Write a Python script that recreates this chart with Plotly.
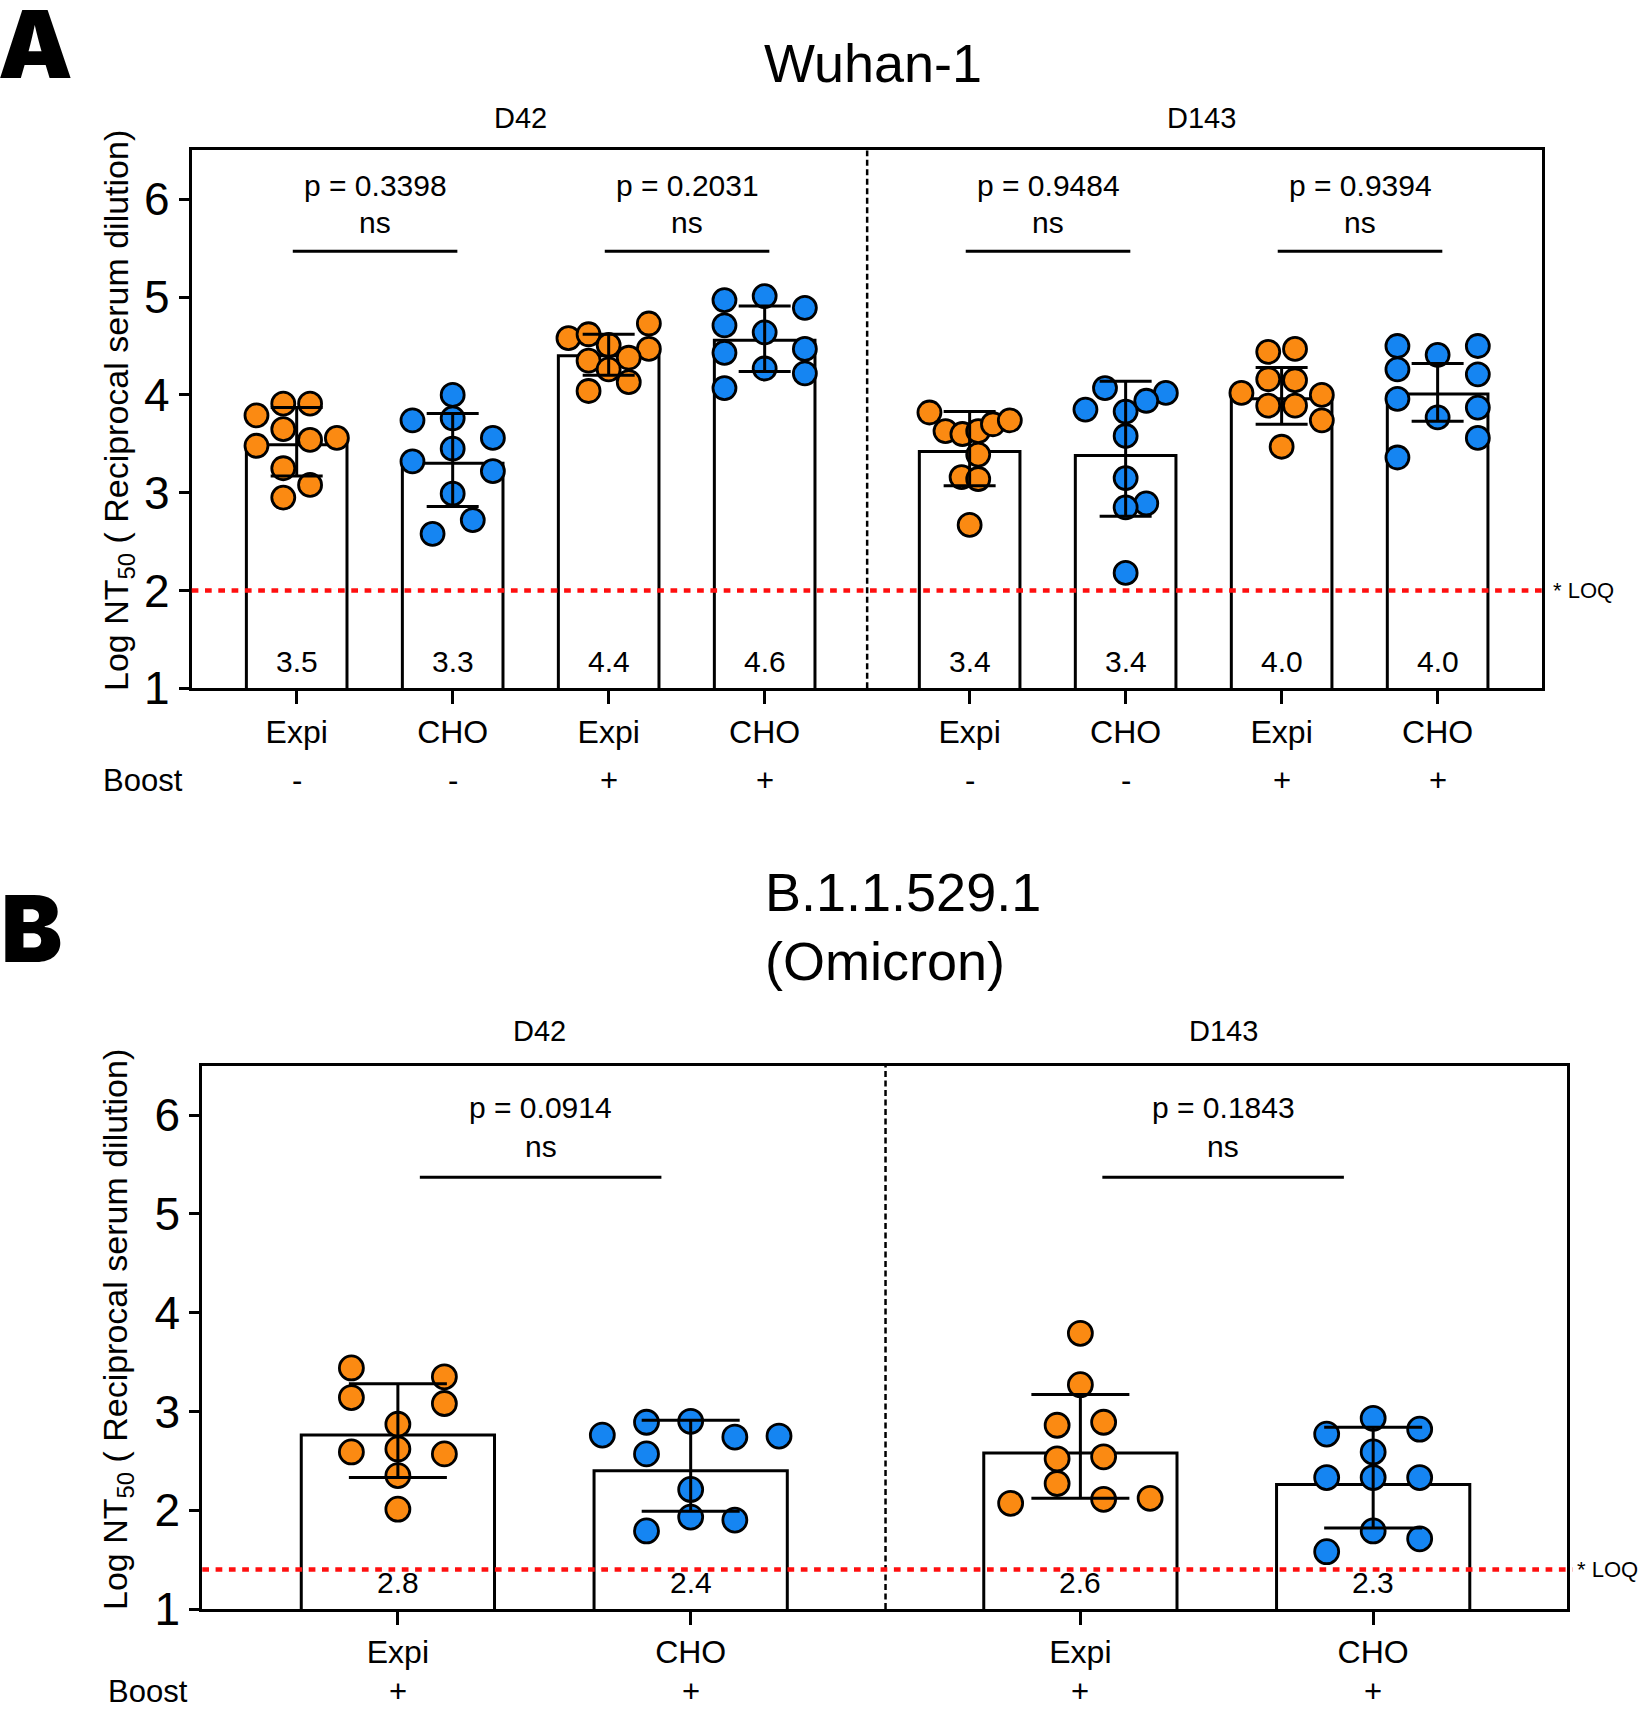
import plotly.graph_objects as go

# ---------------- data ----------------
# Panel A : Wuhan-1
a_platform = ["Expi", "CHO", "Expi", "CHO", "Expi", "CHO", "Expi", "CHO"]
a_boost = ["-", "-", "+", "+", "-", "-", "+", "+"]
a_days = ["D42", "D143"]
a_points = [
    [3.79, 3.91, 3.91, 3.65, 3.48, 3.54, 3.56, 3.25, 3.08, 2.95],
    [4.00, 3.74, 3.76, 3.56, 3.45, 3.32, 3.22, 2.99, 2.72, 2.58],
    [4.58, 4.62, 4.73, 4.51, 4.47, 4.35, 4.38, 4.26, 4.13, 4.04],
    [4.97, 5.01, 4.89, 4.71, 4.64, 4.43, 4.47, 4.27, 4.22, 4.07],
    [3.82, 3.63, 3.60, 3.63, 3.70, 3.74, 3.39, 3.16, 3.14, 2.67],
    [4.07, 4.02, 3.85, 3.94, 3.83, 3.58, 3.15, 2.89, 2.85, 2.18],
    [4.44, 4.47, 4.16, 4.15, 4.02, 3.89, 3.89, 4.00, 3.74, 3.47],
    [4.50, 4.50, 4.41, 4.26, 4.21, 3.96, 3.87, 3.77, 3.56, 3.36],
]
a_bar = [3.49, 3.30, 4.40, 4.56, 3.42, 3.38, 3.96, 4.01]
a_err_hi = [3.87, 3.81, 4.62, 4.91, 3.83, 4.14, 4.28, 4.32]
a_err_lo = [3.17, 2.86, 4.20, 4.24, 3.07, 2.76, 3.70, 3.73]
a_pvals = ["0.3398", "0.2031", "0.9484", "0.9394"]
a_loq = 2.0

# Panel B : B.1.1.529.1 (Omicron)
b_platform = ["Expi", "CHO", "Expi", "CHO"]
b_boost = ["+", "+", "+", "+"]
b_days = ["D42", "D143"]
b_points = [
    [3.44, 3.35, 3.14, 3.08, 2.87, 2.59, 2.62, 2.57, 2.35, 2.01],
    [2.76, 2.89, 2.90, 2.74, 2.75, 2.57, 2.21, 1.93, 1.90, 1.79],
    [3.79, 3.27, 2.86, 2.89, 2.52, 2.54, 2.27, 2.07, 2.11, 2.12],
    [2.93, 2.77, 2.82, 2.59, 2.33, 2.33, 2.33, 1.79, 1.71, 1.58],
]
b_bar = [2.76, 2.40, 2.58, 2.26]
b_err_hi = [3.28, 2.91, 3.17, 2.84]
b_err_lo = [2.33, 1.99, 2.12, 1.82]
b_pvals = ["0.0914", "0.1843"]
b_loq = 1.4

# ---------------- layout helpers (positions / styles) ----------------
# beeswarm slot index of every dot (horizontal spread)
a_slots = [
    [-1.5, -0.5, 0.5, -0.5, -1.5, 0.5, 1.5, -0.5, 0.5, -0.5],
    [0, -1.5, 0, 1.5, 0, -1.5, 1.5, 0, 0.75, -0.75],
    [-1.5, -0.75, 1.5, 0, 1.5, -0.75, 0.75, 0, 0.75, -0.75],
    [-1.5, 0, 1.5, -1.5, 0, -1.5, 1.5, 0, 1.5, -1.5],
    [-1.5, -0.9, -0.27, 0.32, 0.87, 1.5, 0.32, -0.3, 0.32, 0],
    [-0.77, 1.5, -1.5, 0.77, 0, 0, 0, 0.77, 0, 0],
    [-0.5, 0.5, -0.5, 0.5, -1.5, -0.5, 0.5, 1.5, 1.5, 0],
    [-1.5, 1.5, 0, -1.5, 1.5, -1.5, 1.5, 0, 1.5, -1.5],
]
b_slots = [
    [-1, 1, -1, 1, 0, -1, 0, 1, 0, 0],
    [-1.9, -0.95, 0, 0.95, 1.9, -0.95, 0, 0, 0.95, -0.95],
    [0, 0, -0.5, 0.5, -0.5, 0.5, -0.5, -1.5, 0.5, 1.5],
    [0, -1, 1, 0, -1, 0, 1, 0, 1, -1],
]

W, H = 1642, 1709
FONT = "Liberation Sans, Arial, sans-serif"
ORANGE = "#FB8A12"
BLUE = "#1585F2"


def fx(p):
    return p / W


def fy(p):
    return 1 - p / H


def positions(n, per_group, gap):
    return [i + (gap if i >= per_group else 0) for i in range(n)]


a_x = positions(len(a_bar), 4, 0.314)
b_x = positions(len(b_bar), 2, 0.331)

panels = [
    dict(x=a_x, bar=a_bar, hi=a_err_hi, lo=a_err_lo, pts=a_points, slots=a_slots,
         plat=a_platform, boost=a_boost, days=a_days, pv=a_pvals, loq=a_loq,
         xa="x", ya="y", slot=0.1718, barw=0.645, cap=26, msize=23,
         dom_x=(191.7, 1542.3), dom_y=(688.3, 150.4), xr=(-0.673, 7.985),
         line_y=5.47, p_y=6.14, ns_y=5.76, line_off=(-0.025, 0.03),
         day_pos=(1.437, 5.80), day_py=117.7, boost_px=(143, 780),
         ytitle=(118, 411), loq_px=(1551, 590)),
    dict(x=b_x, bar=b_bar, hi=b_err_hi, lo=b_err_lo, pts=b_points, slots=b_slots,
         plat=b_platform, boost=b_boost, days=b_days, pv=b_pvals, loq=b_loq,
         xa="x2", ya="y2", slot=0.1588, barw=0.66, cap=49, msize=24,
         dom_x=(202.3, 1567.0), dom_y=(1609.0, 1065.6), xr=(-0.668, 3.993),
         line_y=5.37, p_y=6.08, ns_y=5.68, line_off=(0.075, -0.1),
         day_pos=(0.483, 2.82), day_py=1030.8, boost_px=(148, 1691),
         ytitle=(117, 1330), loq_px=(1575, 1569)),
]

fig = go.Figure()
shapes = []
annotations = []

for k, P in enumerate(panels):
    xa, ya = P["xa"], P["ya"]
    # bars
    fig.add_trace(go.Bar(
        x=P["x"], y=P["bar"], width=P["barw"], xaxis=xa, yaxis=ya,
        marker=dict(color="white", line=dict(color="black", width=3)),
        showlegend=False, hoverinfo="skip"))
    # individual animals
    for i, vals in enumerate(P["pts"]):
        col = ORANGE if P["plat"][i] == "Expi" else BLUE
        fig.add_trace(go.Scatter(
            x=[P["x"][i] + s * P["slot"] for s in P["slots"][i]], y=vals,
            mode="markers", xaxis=xa, yaxis=ya, showlegend=False,
            marker=dict(size=P["msize"], color=col,
                        line=dict(color="black", width=2.8))))
    # error bars
    fig.add_trace(go.Scatter(
        x=P["x"], y=P["bar"], mode="markers", xaxis=xa, yaxis=ya,
        showlegend=False, hoverinfo="skip",
        marker=dict(size=1, color="rgba(0,0,0,0)"),
        error_y=dict(type="data", symmetric=False,
                     array=[h - m for h, m in zip(P["hi"], P["bar"])],
                     arrayminus=[m - l for l, m in zip(P["lo"], P["bar"])],
                     color="black", thickness=3, width=P["cap"])))

    n = len(P["x"])
    half = n // 2
    sep = (P["x"][half - 1] + P["x"][half]) / 2
    # day separator
    shapes.append(dict(type="line", xref=xa, yref=f"{ya} domain", x0=sep, x1=sep,
                       y0=0, y1=1, line=dict(color="black", width=2.5, dash="6px,3.5px")))
    # limit of quantification
    shapes.append(dict(type="line", xref=f"{xa} domain", yref=ya, x0=0, x1=1.004,
                       y0=P["loq"], y1=P["loq"],
                       line=dict(color="#FF1010", width=4.5, dash="6.7px,6.6px")))
    annotations.append(dict(text="* LOQ", xref="paper", yref="paper",
                            x=fx(P["loq_px"][0]), y=fy(P["loq_px"][1]),
                            xanchor="left", yanchor="middle", showarrow=False,
                            font=dict(size=22, family=FONT, color="black")))
    # comparisons
    for j, pv in enumerate(P["pv"]):
        i0, i1 = 2 * j, 2 * j + 1
        xa0 = P["x"][i0] + P["line_off"][0]
        xa1 = P["x"][i1] + P["line_off"][1]
        shapes.append(dict(type="line", xref=xa, yref=ya, x0=xa0, x1=xa1,
                           y0=P["line_y"], y1=P["line_y"],
                           line=dict(color="black", width=3)))
        xm = (xa0 + xa1) / 2
        annotations.append(dict(text=f"p = {pv}", xref=xa, yref=ya, x=xm, y=P["p_y"],
                                showarrow=False, xanchor="center", yanchor="middle",
                                font=dict(size=30, family=FONT, color="black")))
        annotations.append(dict(text="ns", xref=xa, yref=ya, x=xm, y=P["ns_y"],
                                showarrow=False, xanchor="center", yanchor="middle",
                                font=dict(size=30, family=FONT, color="black")))
    # bar value labels
    for i in range(n):
        annotations.append(dict(text=f"{P['bar'][i]:.1f}", xref=xa, yref=ya,
                                x=P["x"][i], y=1.27, showarrow=False,
                                xanchor="center", yanchor="middle",
                                font=dict(size=30, family=FONT, color="black")))
    # Boost row
    annotations.append(dict(text="Boost", xref="paper", yref="paper",
                            x=fx(P["boost_px"][0]), y=fy(P["boost_px"][1]),
                            showarrow=False, xanchor="center", yanchor="middle",
                            font=dict(size=31, family=FONT, color="black")))
    for i in range(n):
        annotations.append(dict(text=P["boost"][i], xref=xa, yref="paper",
                                x=P["x"][i], y=fy(P["boost_px"][1]), showarrow=False,
                                xanchor="center", yanchor="middle",
                                font=dict(size=31, family=FONT, color="black")))
    # day headers
    for d, xp in zip(P["days"], P["day_pos"]):
        annotations.append(dict(text=d, xref=xa, yref="paper", x=xp, y=fy(P["day_py"]),
                                showarrow=False, xanchor="center", yanchor="middle",
                                font=dict(size=29, family=FONT, color="black")))
    # y-axis title
    annotations.append(dict(text="Log NT<sub>50</sub> ( Reciprocal serum dilution)",
                            xref="paper", yref="paper", x=fx(P["ytitle"][0]),
                            y=fy(P["ytitle"][1]), textangle=-90, showarrow=False,
                            xanchor="center", yanchor="middle",
                            font=dict(size=34, family=FONT, color="black")))

    axis_common = dict(showline=True, linecolor="black", linewidth=3, mirror=True,
                       showgrid=False, zeroline=False, ticks="outside",
                       tickcolor="black", tickwidth=3, automargin=False)
    xkey = "xaxis" if k == 0 else "xaxis2"
    ykey = "yaxis" if k == 0 else "yaxis2"
    fig.update_layout(**{
        xkey: dict(axis_common, domain=[fx(P["dom_x"][0]), fx(P["dom_x"][1])],
                   range=list(P["xr"]), tickvals=P["x"], ticktext=P["plat"],
                   ticklen=13, anchor=ya,
                   tickfont=dict(size=32, family=FONT, color="black")),
        ykey: dict(axis_common, domain=[fy(P["dom_y"][0]), fy(P["dom_y"][1])],
                   range=[1, 6.5], tickvals=[1, 2, 3, 4, 5, 6], ticklen=10,
                   anchor=xa, tickfont=dict(size=46, family=FONT, color="black")),
    })

# titles and panel letters
annotations.append(dict(text="Wuhan-1", xref="paper", yref="paper", x=fx(762), y=fy(62.7),
                        xanchor="left", yanchor="middle", showarrow=False,
                        font=dict(size=54, family=FONT, color="black")))
annotations.append(dict(text="B.1.1.529.1", xref="paper", yref="paper",
                        x=fx(763), y=fy(892), xanchor="left", yanchor="middle",
                        showarrow=False, font=dict(size=54, family=FONT, color="black")))
annotations.append(dict(text="(Omicron)", xref="paper", yref="paper",
                        x=fx(763), y=fy(961), xanchor="left", yanchor="middle",
                        showarrow=False, font=dict(size=54, family=FONT, color="black")))
annotations.append(dict(text="A", xref="paper", yref="paper", x=fx(35), y=fy(44),
                        xanchor="center", yanchor="middle", showarrow=False,
                        font=dict(size=94, family="Inter, DejaVu Sans, sans-serif",
                                  color="black", weight=900)))
annotations.append(dict(text="B", xref="paper", yref="paper", x=fx(31), y=fy(928),
                        xanchor="center", yanchor="middle", showarrow=False,
                        font=dict(size=92, family="Inter, DejaVu Sans, sans-serif",
                                  color="black", weight=900)))

fig.update_layout(width=W, height=H, autosize=False,
                  margin=dict(l=0, r=0, t=0, b=0, pad=0, autoexpand=False),
                  paper_bgcolor="white", plot_bgcolor="white",
                  barmode="overlay", showlegend=False,
                  shapes=shapes, annotations=annotations)

page_css = ("document.documentElement.style.margin='0px';"
            "document.body.style.margin='0px';"
            "document.documentElement.style.overflow='hidden';"
            "document.body.style.overflow='hidden';")
fig.write_html("out.html", config={"displayModeBar": False}, post_script=page_css)
